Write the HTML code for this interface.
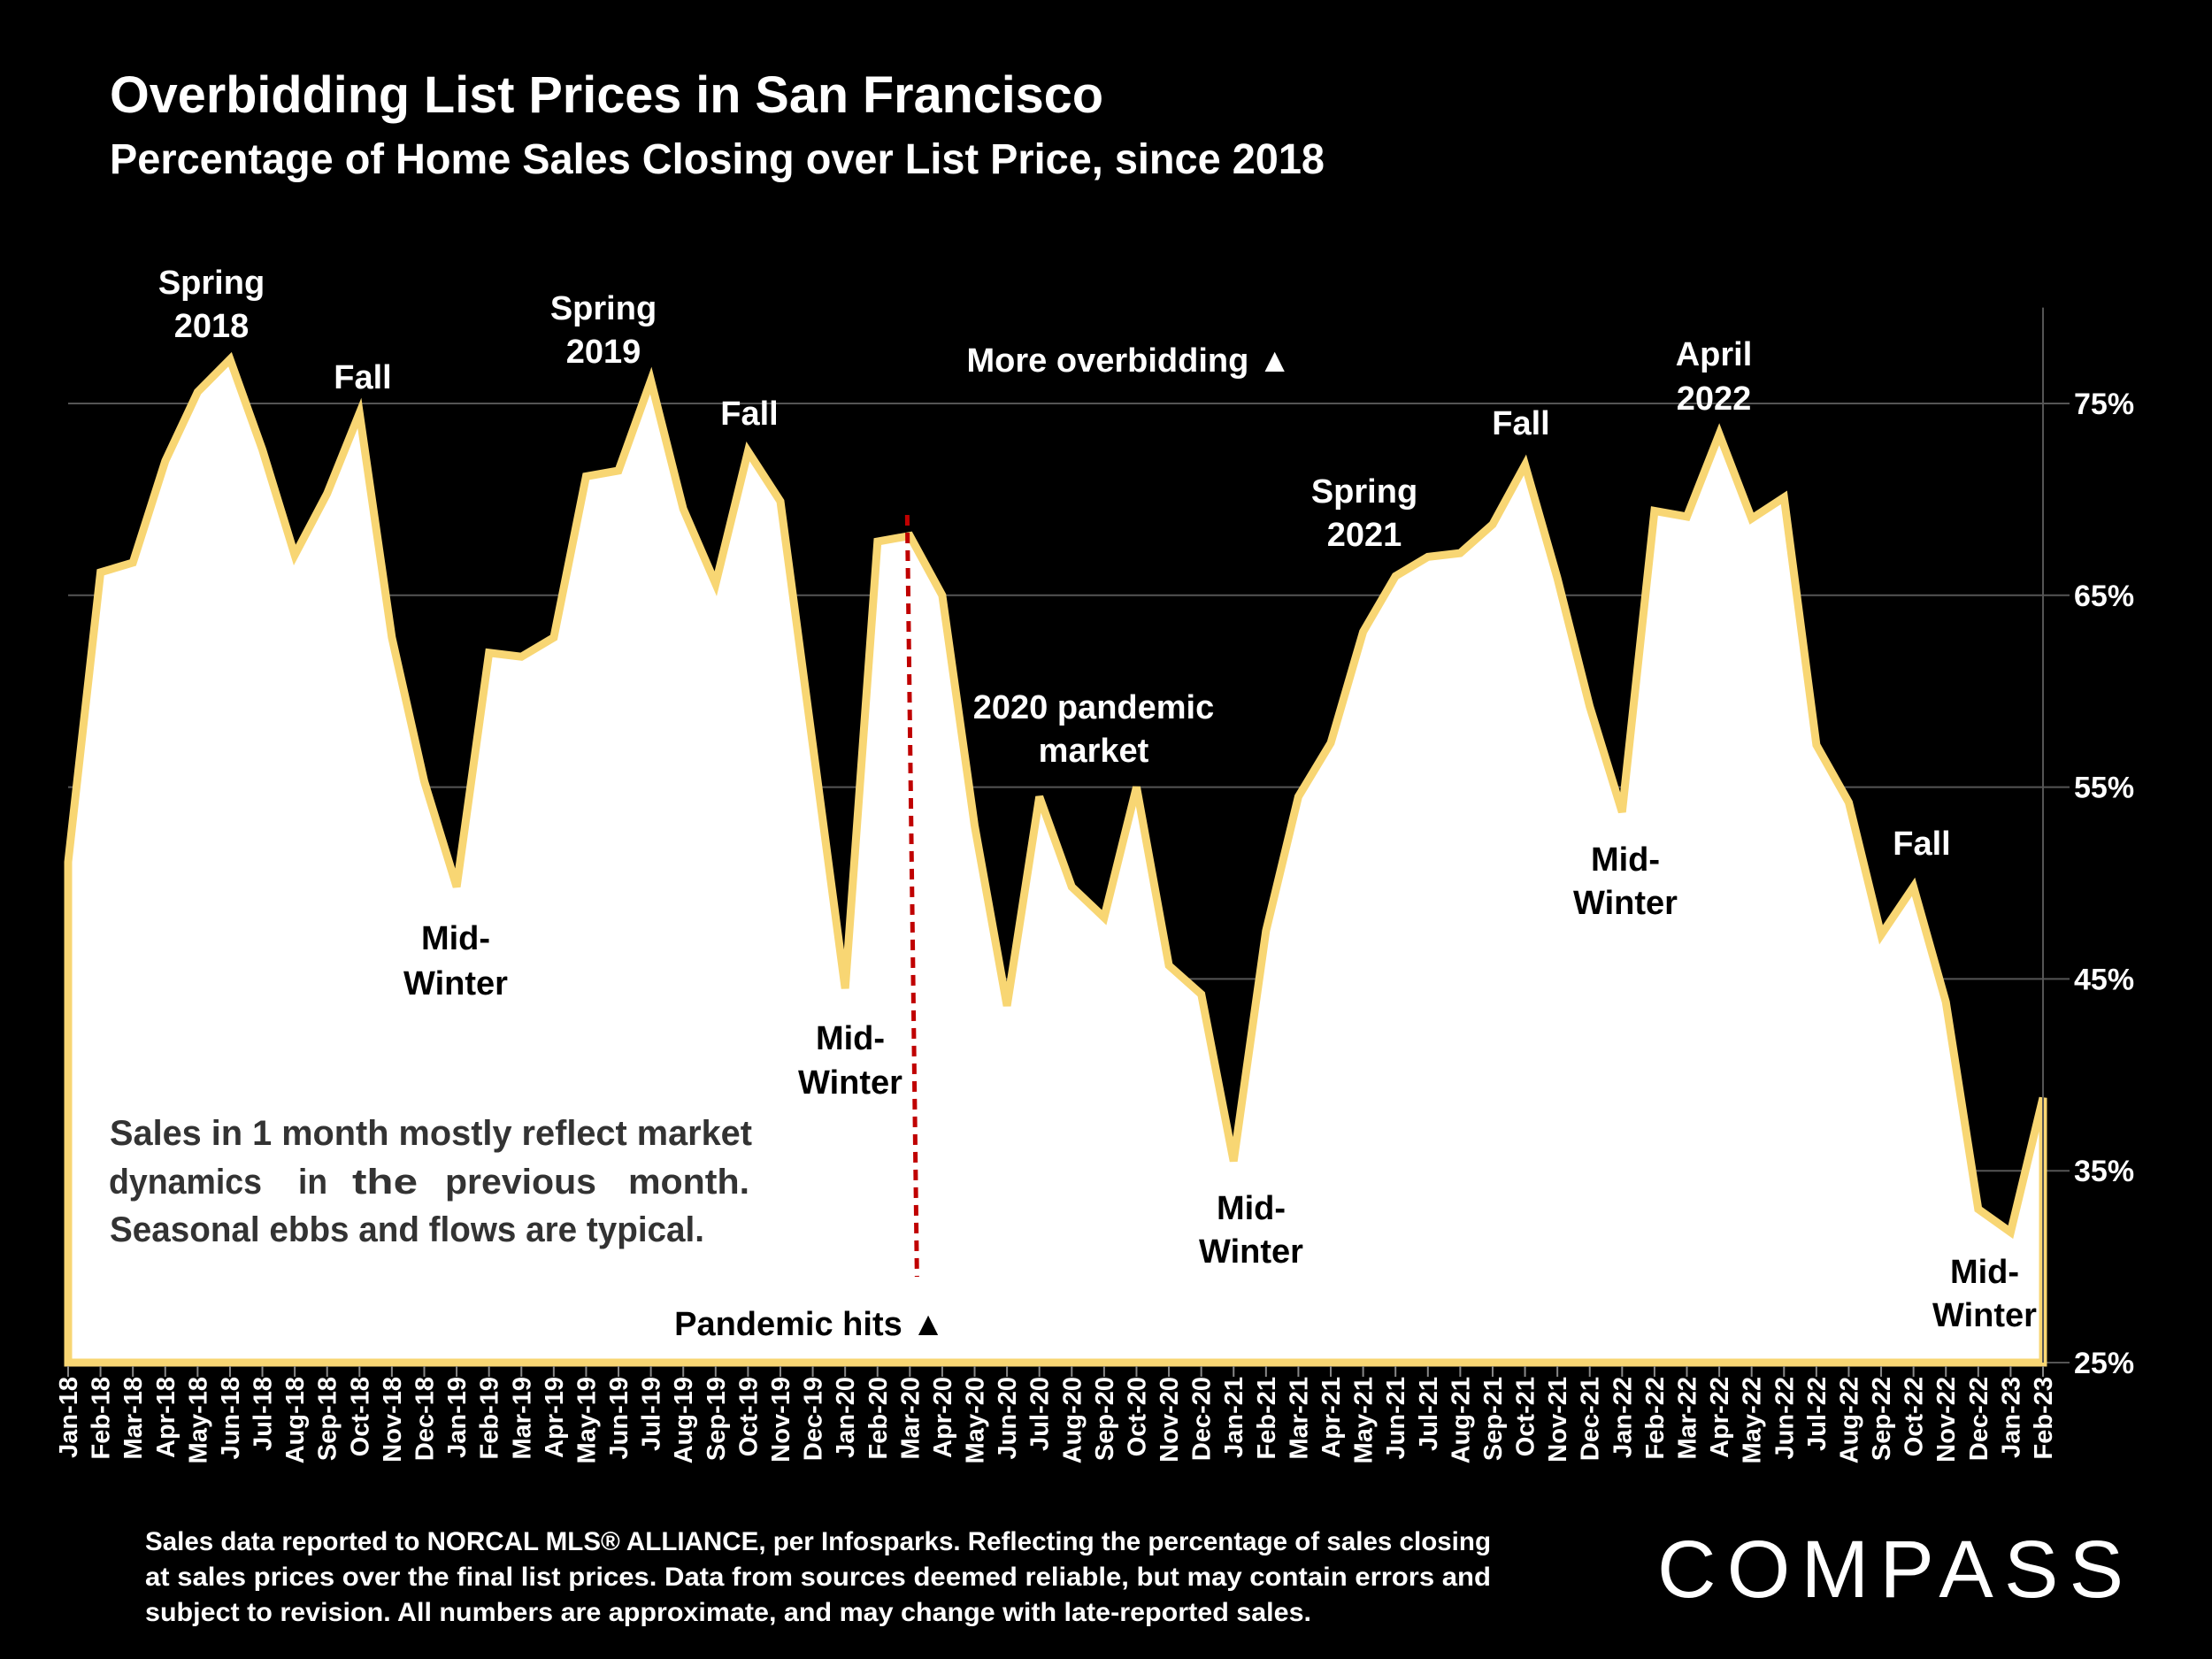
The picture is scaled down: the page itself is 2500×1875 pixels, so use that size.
<!DOCTYPE html>
<html><head><meta charset="utf-8"><style>
html,body{margin:0;padding:0;background:#000;}
svg{display:block;}
text{font-family:"Liberation Sans",sans-serif;}
</style></head><body>
<svg id="chart" width="2500" height="1875" viewBox="0 0 2500 1875" xmlns="http://www.w3.org/2000/svg">
<rect width="2500" height="1875" fill="#000"/>
<text x="124" y="127" fill="#fff" font-size="58" font-weight="bold" textLength="1123" lengthAdjust="spacingAndGlyphs">Overbidding List Prices in San Francisco</text>
<text x="124" y="196" fill="#fff" font-size="48" font-weight="bold" textLength="1373" lengthAdjust="spacingAndGlyphs">Percentage of Home Sales Closing over List Price, since 2018</text>
<g id="grid"></g>
<g id="area"></g>
<g id="axes"></g>
<g id="notes"></g>
<text x="124" y="1294" fill="#333" font-size="40" font-weight="bold" textLength="726" lengthAdjust="spacingAndGlyphs">Sales in 1 month mostly reflect market</text>
<g fill="#333" font-size="40" font-weight="bold">
<text x="123" y="1349" textLength="173" lengthAdjust="spacingAndGlyphs">dynamics</text>
<text x="337" y="1349" textLength="33" lengthAdjust="spacingAndGlyphs">in</text>
<text x="398" y="1349" textLength="74" lengthAdjust="spacingAndGlyphs">the</text>
<text x="503" y="1349" textLength="171" lengthAdjust="spacingAndGlyphs">previous</text>
<text x="710" y="1349" textLength="137" lengthAdjust="spacingAndGlyphs">month.</text>
</g>
<text x="124" y="1403" fill="#333" font-size="40" font-weight="bold" textLength="672" lengthAdjust="spacingAndGlyphs">Seasonal ebbs and flows are typical.</text>
<text x="164" y="1752" fill="#fff" font-size="30" font-weight="bold" textLength="1521" lengthAdjust="spacingAndGlyphs">Sales data reported to NORCAL MLS® ALLIANCE, per Infosparks. Reflecting the percentage of sales closing</text>
<text x="164" y="1792" fill="#fff" font-size="30" font-weight="bold" textLength="1521" lengthAdjust="spacingAndGlyphs">at sales prices over the final list prices. Data from sources deemed reliable, but may contain errors and</text>
<text x="164" y="1832" fill="#fff" font-size="30" font-weight="bold" textLength="1318" lengthAdjust="spacingAndGlyphs">subject to revision. All numbers are approximate, and may change with late-reported sales.</text>
<text x="1873" y="1805" fill="#fff" font-size="92" textLength="527" lengthAdjust="spacing">COMPASS</text>
</svg>
<script>
const months=["Jan-18","Feb-18","Mar-18","Apr-18","May-18","Jun-18","Jul-18","Aug-18","Sep-18","Oct-18","Nov-18","Dec-18","Jan-19","Feb-19","Mar-19","Apr-19","May-19","Jun-19","Jul-19","Aug-19","Sep-19","Oct-19","Nov-19","Dec-19","Jan-20","Feb-20","Mar-20","Apr-20","May-20","Jun-20","Jul-20","Aug-20","Sep-20","Oct-20","Nov-20","Dec-20","Jan-21","Feb-21","Mar-21","Apr-21","May-21","Jun-21","Jul-21","Aug-21","Sep-21","Oct-21","Nov-21","Dec-21","Jan-22","Feb-22","Mar-22","Apr-22","May-22","Jun-22","Jul-22","Aug-22","Sep-22","Oct-22","Nov-22","Dec-22","Jan-23","Feb-23"];
const values=[51.1,66.2,66.7,72,75.6,77.3,72.6,67.1,70.3,74.5,62.8,55.3,49.8,62,61.8,62.8,71.2,71.5,76.2,69.5,65.6,72.5,69.9,57.2,44.5,67.8,68.1,65,53,43.6,54.5,49.8,48.2,55,45.7,44.2,35.5,47.5,54.5,57.3,63.1,66,67,67.2,68.7,71.8,65.9,59.2,53.7,69.4,69.1,73.4,69,70.1,57.2,54.2,47.3,49.8,43.8,33,31.8,38.8];
const yTicks=[25,35,45,55,65,75];
const yTickLabels=["25%","35%","45%","55%","65%","75%"];
const yMin=25,yMax=80;
const X0=77,X1=2309,Y25=1540,Y75=456;
const xs=i=>X0+(X1-X0)*i/(months.length-1);
const ys=v=>Y25-(v-25)*(Y25-Y75)/50;
const NS="http://www.w3.org/2000/svg";
function mk(tag,attrs,parent){const e=document.createElementNS(NS,tag);for(const k in attrs)e.setAttribute(k,attrs[k]);parent.appendChild(e);return e;}
const grid=document.getElementById('grid'),area=document.getElementById('area'),axes=document.getElementById('axes'),notes=document.getElementById('notes');
yTicks.forEach((t,i)=>{
  const l=mk('line',{x1:X0,x2:X1+30,y1:ys(t),y2:ys(t),stroke:'#555','stroke-width':2},grid);
  
  
  const tx=mk('text',{x:2344,y:ys(t)+12,fill:'#fff','font-size':34,'font-weight':'bold'},axes);
  tx.textContent=yTickLabels[i];
  
  
});
const ax=mk('line',{x1:X1,x2:X1,y1:ys(yMax),y2:Y25,stroke:'#555','stroke-width':2},axes);


let pts=values.map((v,i)=>xs(i).toFixed(1)+','+ys(v).toFixed(1)).join(' ');
const poly=mk('polygon',{points:xs(0)+','+Y25+' '+pts+' '+xs(values.length-1)+','+Y25,fill:'#fff',stroke:'#F8D673','stroke-width':9,'stroke-linejoin':'miter'},area);


months.forEach((m,i)=>{
  const tk=mk('line',{x1:xs(i),x2:xs(i),y1:Y25+4,y2:Y25+16,stroke:'#888','stroke-width':2},axes);
  
  
  const t=mk('text',{x:0,y:0,fill:'#fff','font-size':29,'font-weight':'bold','text-anchor':'end',transform:`translate(${xs(i)+10},1556) rotate(-90)`},axes);
  t.textContent=m;
  
  
});
const dash=mk('line',{x1:xs(26)-3,y1:582,x2:xs(26)+8,y2:1443,stroke:'#C00000','stroke-width':5,'stroke-dasharray':'12,8'},notes);


const ann=[["Spring",239,319,"#fff"],["2018",239,368,"#fff"],["Fall",410,426,"#fff"],["Spring",682,348,"#fff"],["2019",682,397,"#fff"],["Fall",847,467,"#fff"],["Mid-",515,1060,"#000"],["Winter",515,1111,"#000"],["More overbidding ▲",1276,407,"#fff"],["Mid-",961,1173,"#000"],["Winter",961,1223,"#000"],["2020 pandemic",1236,799,"#fff"],["market",1236,848,"#fff"],["Pandemic hits ▲",915,1496,"#000"],["Spring",1542,555,"#fff"],["2021",1542,604,"#fff"],["Fall",1719,478,"#fff"],["Mid-",1414,1365,"#000"],["Winter",1414,1414,"#000"],["Mid-",1837,971,"#000"],["Winter",1837,1020,"#000"],["April",1937,400,"#fff"],["2022",1937,450,"#fff"],["Fall",2172,953,"#fff"],["Mid-",2243,1437,"#000"],["Winter",2243,1486,"#000"]];
ann.forEach(a=>{
  const t=mk('text',{x:a[1],y:a[2]+13,fill:a[3],'font-size':38,'font-weight':'bold','text-anchor':'middle'},notes);
  t.textContent=a[0];
  
  
});
</script>
</body></html>
